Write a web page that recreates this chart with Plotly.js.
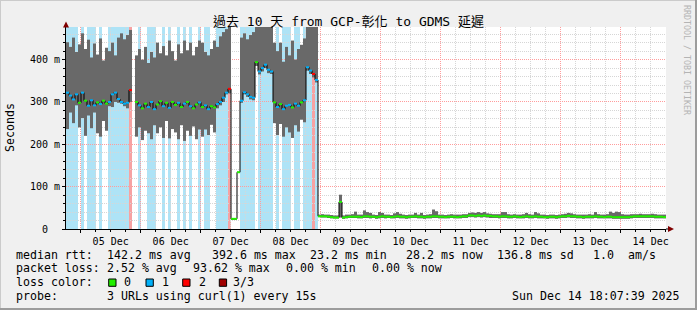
<!DOCTYPE html>
<html><head><meta charset="utf-8">
<script src="https://cdn.plot.ly/plotly-3.0.1.min.js"></script>
<style>
html,body{margin:0;padding:0;background:#f0f0f0;}
#wrap{position:relative;width:697px;height:310px;overflow:hidden;}
#chart{position:absolute;left:0;top:0;width:697px;height:310px;}
.edge{position:absolute;}
</style></head><body>
<div id="wrap"><div id="chart"></div>
<div class="edge" style="left:0;top:0;width:697px;height:1px;background:#cbcbcb"></div>
<div class="edge" style="left:0;top:0;width:1px;height:310px;background:#cbcbcb"></div>
<div class="edge" style="right:0;top:0;width:2px;height:310px;background:#9c9c9c"></div>
<div class="edge" style="left:0;bottom:0;width:697px;height:2px;background:#9c9c9c"></div>
</div>
<script>
// ---- time base (data bins of 72 minutes) ----
const T0 = Date.UTC(2025, 11, 4, 18, 7, 39);
const SPAN_DAYS = 10;
const BIN_MIN = 72;
const Y_TOP = 477;

// smoke range (ms) per bin: highest and lowest ping
const smokeHigh = [
441,430,452,418,436,462,425,447,405,438, 412,450,398,428,420,440,410,452,462,448,
458,470,null,410,425,400,430,392,418,405, 440,415,432,410,445,420,398,436,415,445,
422,440,410,430,445,440,418,410,425,445, 430,455,465,472,477,26,26,134,452,462,
448,458,465,477,477,477,477,477,477,440, 420,440,395,430,410,445,400,425,435,450,
477,477,477,477,
34,35,34,34,33,32,32,81,32,34, 34,35,41,34,34,44,40,38,34,33,
40,38,34,34,33,37,40,36,34,33, 34,34,38,34,38,33,34,35,46,42,
34,34,33,34,35,34,34,34,35,35, 38,39,38,40,38,40,37,36,35,35,
35,40,40,35,34,35,34,34,35,38, 35,34,40,37,34,34,33,34,34,33,
34,35,36,38,37,35,34,34,34,34, 35,34,40,35,34,34,35,41,38,41,
40,35,34,34,35,35,35,36,35,35, 35,36,35,34,34,34];
const smokeLow = [
236,275,250,292,240,262,220,268,238,275, 226,218,255,232,290,288,300,298,296,290,
285,300,null,218,240,210,232,226,212,245, 226,240,215,255,214,236,228,212,245,208,
232,220,242,212,235,218,235,222,246,228, 285,292,300,318,320,22,22,134,298,318,
312,306,304,385,365,372,380,368,366,250, 222,248,218,240,228,215,245,230,258,252,
374,366,358,346,
28,27,27,26,25,25,25,27,24,25, 26,26,26,25,25,26,26,25,26,24,
25,26,25,26,25,25,26,25,25,24, 25,26,26,25,25,24,25,25,26,26,
25,25,25,25,26,25,25,25,26,26, 28,28,27,28,27,28,27,26,26,26,
25,26,26,25,25,26,25,25,25,26, 25,25,26,25,25,25,24,25,25,24,
25,26,26,27,26,26,25,25,24,25, 25,25,26,25,25,25,25,25,24,24,
24,24,24,24,25,26,26,26,26,26, 26,26,25,25,25,25];
const medianRtt = [
322,315,306,318,298,322,303,291,304,292, 299,295,303,296,300,318,322,307,300,296,
298,328,null,300,292,285,296,288,300,283, 294,302,290,298,286,300,293,298,288,296,
300,290,285,294,299,288,292,283,290,287, 295,300,310,322,331,24,24,134,303,323,
318,312,310,394,372,380,388,376,372,299, 288,295,283,291,293,287,296,291,299,304,
382,374,366,352,
30,30,30,29,28,27,27,64,27,28, 29,29,29,29,28,30,30,29,29,28,
29,30,29,29,28,29,30,29,29,28, 29,29,30,29,29,28,29,29,30,30,
29,29,28,29,29,29,28,29,30,30, 32,32,31,32,31,32,31,31,30,30,
29,30,30,29,29,30,29,28,29,30, 29,29,30,29,29,28,28,29,29,28,
29,30,30,31,30,30,29,29,28,29, 29,29,30,29,29,28,29,29,28,28,
28,28,28,28,29,30,30,30,30,30, 30,30,29,29,29,28];
// lost pings per bin (of 3); null = no data
const lossCount = [
1,1,1,1,0,1,0,1,1,1, 0,1,0,0,1,1,1,1,1,1,
1,2,null,0,1,0,0,1,1,1, 0,0,1,0,1,0,0,1,0,1,
0,1,0,0,1,0,1,1,0,0, 1,1,1,1,2,0,0,0,1,1,
1,1,1,0,1,1,1,1,1,0, 1,0,1,1,1,0,1,1,0,1,
1,1,2,1,
0,0,0,0,0,0,0,0,0,0, 0,0,0,0,0,0,0,0,0,0,
0,0,0,0,0,0,0,0,0,0, 0,0,0,0,0,0,0,0,0,0,
0,0,0,0,0,0,0,0,0,0, 0,0,0,0,0,0,0,0,0,0,
0,0,0,0,0,0,0,0,0,0, 0,0,0,0,0,0,0,0,0,0,
0,0,0,0,0,0,0,0,0,0, 0,0,0,0,0,0,0,0,0,0,
0,0,0,0,0,0,0,0,0,0, 0,0,0,0,0,0];

const tickValsY = [0, 100, 200, 300, 400];
const tickTextY = ['0\u00a0\u00a0', '100 m', '200 m', '300 m', '400 m'];
const lossLabels = ['0', '1', '2', '3/3'];
const lossLine = ['#22f000', '#00b0f8', '#ff0000', '#a00000'];
const lossBg = [null, '#aee3f6', '#f6a2a2', '#d98080'];

const titleText = '過去 10 天 from GCP-彰化 to GDMS 延遲';
const legendRows = [
  [[16, 'median rtt:'], [107, '142.2 ms avg'], [212, '392.6 ms max'], [310, '23.2 ms min'],
   [406, '28.2 ms now'], [497, '136.8 ms sd'], [593, '1.0'], [628, 'am/s']],
  [[16, 'packet loss:'], [107, '2.52 % avg'], [193, '93.62 % max'], [286, '0.00 % min'], [372, '0.00 % now']],
  [[16, 'loss color:']],
  [[16, 'probe:'], [107, '3 URLs using curl(1) every 15s']]
];
const stampText = 'Sun Dec 14 18:07:39 2025';

// ---- build ----
const BIN_MS = BIN_MIN * 60000;
const iso = ms => new Date(ms).toISOString().replace('T', ' ').replace('Z', '');
const N = medianRtt.length;
const times = medianRtt.map((_, i) => iso(T0 + (i + 0.5) * BIN_MS));

const L = 66, R = 31, T = 27, B = 81, W = 697, H = 310;
const PW = W - L - R, PH = H - T - B;
const px = v => (v - L) / PW;
const py = v => (H - B - v) / PH;
const MONO = 'DejaVu Sans Mono, Noto Sans CJK TC, monospace';

const shapes = [];
// loss background bands
let i = 0;
while (i < N) {
  const lc = lossCount[i];
  if (lc) {
    let j = i;
    while (j + 1 < N && lossCount[j + 1] === lc) j++;
    shapes.push({type: 'rect', xref: 'x', yref: 'paper', x0: iso(T0 + i * BIN_MS), x1: iso(T0 + (j + 1) * BIN_MS),
      y0: 0, y1: 1, fillcolor: lossBg[lc], line: {width: 0}, layer: 'below'});
    i = j + 1;
  } else i++;
}
// axis arrows
shapes.push({type: 'path', xref: 'paper', yref: 'paper', layer: 'above',
  path: `M ${px(63)},${py(27.5)} L ${px(69)},${py(27.5)} L ${px(66)},${py(21.5)} Z`,
  fillcolor: '#800000', line: {width: 0}});
shapes.push({type: 'path', xref: 'paper', yref: 'paper', layer: 'above',
  path: `M ${px(666)},${py(229)} L ${px(671)},${py(229)}`, line: {color: '#000', width: 1}});
shapes.push({type: 'path', xref: 'paper', yref: 'paper', layer: 'above',
  path: `M ${px(668)},${py(226)} L ${px(668)},${py(232)} L ${px(674)},${py(229)} Z`,
  fillcolor: '#800000', line: {width: 0}});

const traces = [];
// smoke
traces.push({type: 'bar', x: times, base: smokeLow,
  y: smokeHigh.map((h, k) => h == null ? null : h - smokeLow[k]),
  width: BIN_MS, marker: {color: '#696969', line: {width: 0}}, hoverinfo: 'skip'});
// median step line
traces.push({type: 'scatter', mode: 'lines', x: times, y: medianRtt, line: {shape: 'hvh', color: '#000', width: 1},
  connectgaps: false, hoverinfo: 'skip'});
// coloured median segments by loss
for (let lv = 0; lv < 4; lv++) {
  const xs = [], ys = [];
  for (let k = 0; k < N; k++) {
    if (lossCount[k] === lv && medianRtt[k] != null) {
      xs.push(iso(T0 + k * BIN_MS), iso(T0 + (k + 1) * BIN_MS), null);
      ys.push(medianRtt[k], medianRtt[k], null);
    }
  }
  traces.push({type: 'scatter', mode: 'lines', x: xs, y: ys, line: {color: lossLine[lv], width: 2},
    connectgaps: false, hoverinfo: 'skip'});
}

const ann = [];
ann.push({text: titleText, xref: 'paper', yref: 'paper', x: px(348.5), y: py(21.5), xanchor: 'center', yanchor: 'middle',
  showarrow: false, font: {family: MONO, size: 13, color: '#000'}});
ann.push({text: 'Seconds', xref: 'paper', yref: 'paper', x: px(10), y: py(128), xanchor: 'center', yanchor: 'middle',
  textangle: -90, showarrow: false, font: {family: MONO, size: 11.6, color: '#000'}});
ann.push({text: 'RRDTOOL / TOBI OETIKER', xref: 'paper', yref: 'paper', x: px(687), y: py(60), xanchor: 'center', yanchor: 'middle',
  textangle: 90, showarrow: false, font: {family: MONO, size: 8.3, color: '#b4b4b4'}});
const rowY = [254.7, 268.3, 282, 296];
legendRows.forEach((row, r) => row.forEach(([x, t]) => ann.push({text: t.replace(/ /g, '\u00a0'), xref: 'paper', yref: 'paper',
  x: px(x), y: py(rowY[r]), xanchor: 'left', yanchor: 'middle', showarrow: false, borderpad: 0, borderwidth: 0,
  font: {family: MONO, size: 11.6, color: '#000'}})));
ann.push({text: stampText.replace(/ /g, '\u00a0'), xref: 'paper', yref: 'paper', x: px(680), y: py(rowY[3]), xanchor: 'right',
  yanchor: 'middle', showarrow: false, borderpad: 0, borderwidth: 0, font: {family: MONO, size: 11.6, color: '#000'}});
// loss colour boxes
const boxX = [108.7, 146, 182.7, 219.3];
const boxLabX = [124, 161.7, 199.3, 233.3];
lossLabels.forEach((lab, k) => {
  shapes.push({type: 'rect', xref: 'paper', yref: 'paper', x0: px(boxX[k]), x1: px(boxX[k] + 7.3),
    y0: py(286.3), y1: py(279), fillcolor: lossLine[k], line: {color: '#000', width: 1}, layer: 'above'});
  ann.push({text: lab, xref: 'paper', yref: 'paper', x: px(boxLabX[k]), y: py(rowY[2]), xanchor: 'left', yanchor: 'middle',
    showarrow: false, borderpad: 0, borderwidth: 0, font: {family: MONO, size: 11.6, color: '#000'}});
});

const layout = {
  width: W, height: H, margin: {l: L, r: R, t: T, b: B, pad: 0},
  paper_bgcolor: '#f0f0f0', plot_bgcolor: '#ffffff', showlegend: false, barmode: 'overlay',
  xaxis: {type: 'date', range: [iso(T0), iso(T0 + SPAN_DAYS * 864e5)], tick0: iso(Date.UTC(2025, 11, 5)), dtick: 864e5,
    ticklabelmode: 'period', tickformat: '%d %b', showgrid: true, gridcolor: '#ff9c9c', griddash: '1px,1px', gridwidth: 1,
    showline: true, linecolor: '#000', linewidth: 1, ticks: 'outside', ticklen: 3, tickcolor: '#000',
    tickfont: {family: MONO, size: 10, color: '#000'}, zeroline: false, fixedrange: true,
    minor: {dtick: 6 * 3600e3, tick0: iso(Date.UTC(2025, 11, 5)), showgrid: true, gridcolor: '#d6d6d6', griddash: '1px,1px',
      ticks: 'outside', ticklen: 2, tickcolor: '#000'}},
  yaxis: {range: [0, Y_TOP], tickmode: 'array', tickvals: tickValsY, ticktext: tickTextY, showgrid: true,
    gridcolor: '#ff9c9c', griddash: '1px,1px', showline: true, linecolor: '#000', linewidth: 1, ticks: 'outside', ticklen: 3,
    tickcolor: '#000', tickfont: {family: MONO, size: 10, color: '#000'}, zeroline: false, fixedrange: true,
    minor: {tickmode: 'linear', tick0: 0, dtick: 20, showgrid: true, gridcolor: '#d6d6d6', griddash: '1px,1px',
      ticks: 'outside', ticklen: 2, tickcolor: '#000'}},
  shapes: shapes, annotations: ann
};
Plotly.newPlot('chart', traces, layout, {displayModeBar: false, staticPlot: true});
</script>
</body></html>
